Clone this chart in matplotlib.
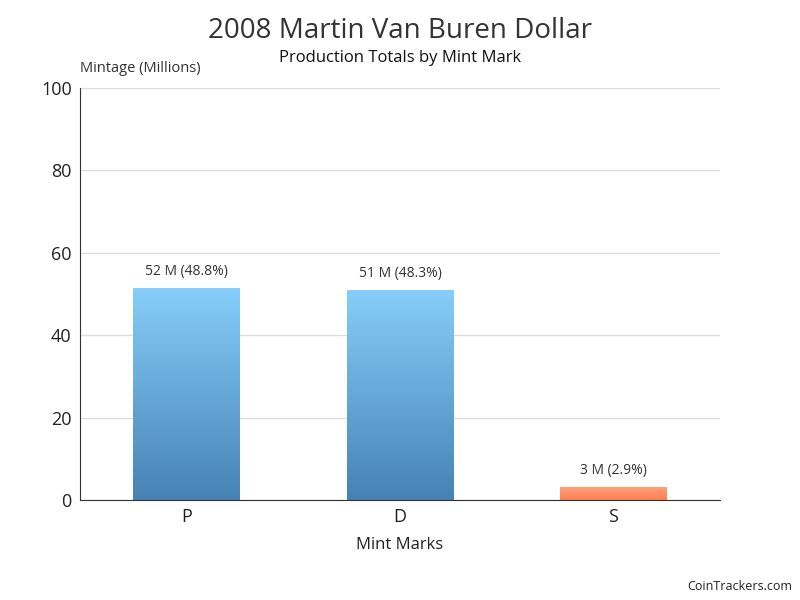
"""
Recreate the 2008 Martin Van Buren Dollar mintage chart.

Output:
- out.png
"""

import matplotlib.pyplot as plt
import numpy as np
from matplotlib.colors import LinearSegmentedColormap

mint_marks = ["P", "D", "S"]
mintage_millions = [51.5, 51.0, 3.06]
bar_labels = ["52 M (48.8%)", "51 M (48.3%)", "3 M (2.9%)"]
y_ticks = [0, 20, 40, 60, 80, 100]

plt.rcParams["font.family"] = ["Open Sans", "DejaVu Sans"]

fig = plt.figure(figsize=(8, 6), dpi=100)
ax = fig.add_axes([0.1, 0.1667, 0.8, 0.6867])

blue_cmap = LinearSegmentedColormap.from_list("blue", ["#4682B4", "#87CEFA"])
orange_cmap = LinearSegmentedColormap.from_list("orange", ["#FF7F50", "#FFA07A"])
cmaps = [blue_cmap, blue_cmap, orange_cmap]

x = np.arange(len(mint_marks))
bars = ax.bar(x, mintage_millions, width=0.5, color="none", zorder=2)
gradient = np.linspace(0, 1, 256).reshape(-1, 1)
for bar, cmap, label in zip(bars, cmaps, bar_labels):
    x0, w, h = bar.get_x(), bar.get_width(), bar.get_height()
    img = ax.imshow(gradient, cmap=cmap, origin="lower", aspect="auto",
                    extent=[x0, x0 + w, 0, h], zorder=2)
    img.set_clip_path(bar)
    ax.text(x0 + w / 2, h + 2.2, label, ha="center", va="bottom",
            fontsize=10, color="#333333")

ax.set_xlim(-0.5, len(mint_marks) - 0.5)
ax.set_ylim(0, 100)
ax.set_yticks(y_ticks)
ax.set_yticklabels([str(t) for t in y_ticks], fontsize=13, color="#222222")
ax.set_xticks(x)
ax.set_xticklabels(mint_marks, fontsize=13, color="#222222")
ax.tick_params(axis="both", length=0, pad=6)
ax.yaxis.grid(True, color="#dddddd", linewidth=1)
ax.set_axisbelow(True)
for side in ["top", "right"]:
    ax.spines[side].set_visible(False)
for side in ["left", "bottom"]:
    ax.spines[side].set_color("#333333")

ax.set_xlabel("Mint Marks", fontsize=12, color="#222222", labelpad=8)
fig.text(0.1, 0.873, "Mintage (Millions)", ha="left", va="bottom",
         fontsize=10.5, color="#333333")

fig.text(0.5, 0.948, "2008 Martin Van Buren Dollar", ha="center", va="center",
         fontsize=20, color="#333333")
fig.text(0.5, 0.903, "Production Totals by Mint Mark", ha="center", va="center",
         fontsize=12, color="#111111")
fig.text(0.99, 0.022, "CoinTrackers.com", ha="right", va="center",
         fontsize=9, color="#222222")

fig.savefig("out.png", dpi=100)
plt.close(fig)
